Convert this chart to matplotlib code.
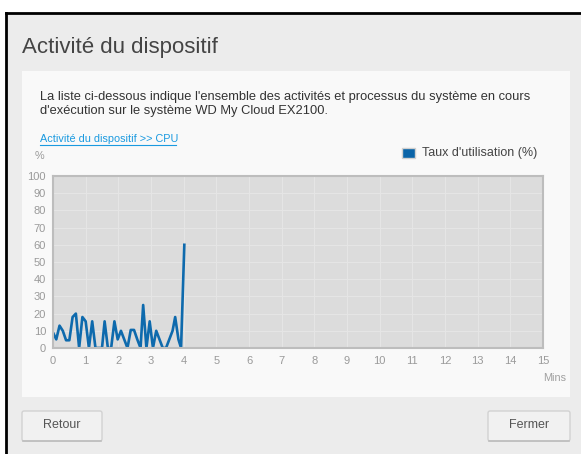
import matplotlib
matplotlib.use("Agg")
import matplotlib.pyplot as plt
from matplotlib.patches import Rectangle, FancyBboxPatch

plt.rcParams["font.family"] = ["Liberation Sans", "DejaVu Sans"]

# CPU usage samples (minutes, %)
minutes = [0.0, 0.1, 0.2, 0.3, 0.4, 0.5, 0.6, 0.7, 0.8, 0.9, 1.0, 1.1, 1.2, 1.3,
           1.4, 1.5, 1.58, 1.68, 1.78, 1.88, 1.98, 2.08, 2.18, 2.28, 2.38, 2.48,
           2.58, 2.68, 2.76, 2.86, 2.96, 3.06, 3.16, 3.26, 3.36, 3.46, 3.56, 3.66,
           3.74, 3.84, 3.92, 4.02]
cpu = [9, 5, 13, 10, 4.5, 4.5, 18, 20, 0, 18, 15.5, 0, 15.5, 0,
       0, 0, 15.5, 0, 0, 15.5, 5, 10, 5, 0, 10.5, 10.5,
       5, 0, 25, 0, 15.5, 0, 10, 5, 0, 0, 5, 10,
       18, 5, 0, 60]

x_ticks = list(range(0, 16))
y_ticks = list(range(0, 101, 10))

title = "Activité du dispositif"
intro = ("La liste ci-dessous indique l'ensemble des activités et processus du système en cours\n"
         "d'exécution sur le système WD My Cloud EX2100.")
link = "Activité du dispositif >> CPU"
legend_label = "Taux d'utilisation (%)"

W, H = 581, 454
fig = plt.figure(figsize=(W / 100, H / 100), dpi=100, facecolor="white")

# background layer in pixel coordinates
bg = fig.add_axes([0, 0, 1, 1])
bg.set_xlim(0, W)
bg.set_ylim(H, 0)
bg.axis("off")

bg.add_patch(Rectangle((6, 13), W, H, facecolor="#ececec", edgecolor="none"))
bg.plot([6, W], [13, 13], color="black", lw=2)
bg.plot([6, 6], [13, H], color="black", lw=2)
bg.add_patch(Rectangle((22, 71), 548, 326, facecolor="#f9f9f9", edgecolor="none"))

bg.text(22, 48, title, fontsize=16, color="#444444", va="center", ha="left")
bg.text(40, 104, intro, fontsize=9.3, color="#333333", va="center", ha="left",
        linespacing=1.15)
bg.text(40, 139, link, fontsize=7.8, color="#1a9ae0", va="center", ha="left")
bg.plot([40, 176], [144.5, 144.5], color="#1a9ae0", lw=0.8)
bg.text(35, 156, "%", fontsize=7.8, color="#9a9a9a", va="center", ha="left")

bg.add_patch(Rectangle((402, 148), 13, 10, facecolor="#0a64a8", edgecolor="#d0d0d0", lw=1))
bg.text(422, 153, legend_label, fontsize=9.0, color="#444444", va="center", ha="left")
bg.text(566, 378, "Mins", fontsize=7.8, color="#a0a0a0", va="center", ha="right")

# buttons
for (bx, bw, label) in [(22, 80, "Retour"), (488, 82, "Fermer")]:
    bg.add_patch(FancyBboxPatch((bx, 411), bw, 30, boxstyle="round,pad=0,rounding_size=2",
                                facecolor="#f1f1f1", edgecolor="#d2d2d2", lw=1))
    bg.plot([bx + 1, bx + bw - 1], [441, 441], color="#bdbdbd", lw=1.2)
    bg.text(bx + bw / 2, 425, label, fontsize=9.0, color="#555555", va="center", ha="center")

# chart
ax = fig.add_axes([53 / W, (H - 348) / H, 490 / W, 172 / H])
ax.set_facecolor("#dcdcdc")
ax.plot(minutes, cpu, color="#0e6aad", lw=1.9, solid_joinstyle="round")
ax.set_xlim(0, 15)
ax.set_ylim(0, 100)
ax.set_xticks(x_ticks)
ax.set_yticks(y_ticks)
ax.grid(True, color="#e6e6e6", lw=0.7)
ax.set_axisbelow(True)
for s in ax.spines.values():
    s.set_color("#bdbdbd")
    s.set_linewidth(1.5)
ax.tick_params(length=0, labelsize=8, labelcolor="#9a9a9a")
ax.tick_params(axis="y", pad=5)
ax.tick_params(axis="x", pad=6)

fig.savefig("out.png", dpi=100, facecolor="white")
